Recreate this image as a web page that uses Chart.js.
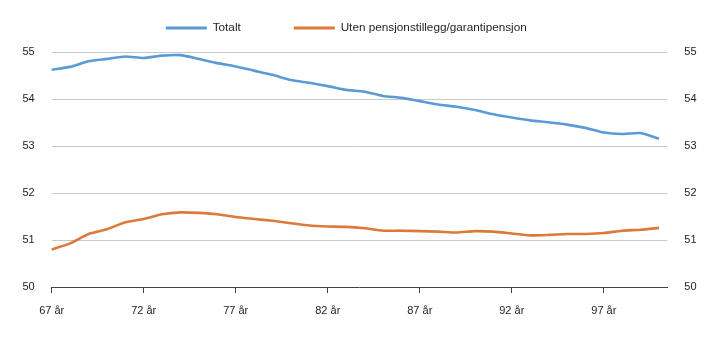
<!DOCTYPE html>
<html>
<head>
<meta charset="utf-8">
<script src="https://cdn.jsdelivr.net/npm/chart.js@4/dist/chart.umd.min.js"></script>
<style>
  html, body { margin: 0; padding: 0; background: #ffffff; }
  #wrap { width: 720px; height: 341px; }
</style>
</head>
<body>
<div id="wrap"><canvas id="c" width="720" height="341"></canvas></div>
<script>
// ---- data ----
const ages = [67, 68, 69, 70, 71, 72, 73, 74, 75, 76, 77, 78, 79, 80, 81, 82, 83,
              84, 85, 86, 87, 88, 89, 90, 91, 92, 93, 94, 95, 96, 97, 98, 99, 100];
const totalt = [54.63, 54.69, 54.81, 54.86, 54.91, 54.88, 54.93, 54.94, 54.86, 54.77,
                54.70, 54.61, 54.52, 54.41, 54.35, 54.28, 54.20, 54.16, 54.07, 54.03,
                53.96, 53.89, 53.84, 53.77, 53.68, 53.61, 53.55, 53.51, 53.46, 53.39,
                53.29, 53.26, 53.28, 53.16];
const utenPensjonstillegg = [50.80, 50.93, 51.13, 51.23, 51.38, 51.45, 51.55, 51.59, 51.58, 51.55,
                51.49, 51.45, 51.41, 51.36, 51.31, 51.29, 51.28, 51.25, 51.20, 51.20,
                51.19, 51.18, 51.16, 51.19, 51.18, 51.14, 51.10, 51.11, 51.13, 51.13,
                51.15, 51.20, 51.22, 51.26];
const seriesNames = ['Totalt', 'Uten pensjonstillegg/garantipensjon'];
const xTickValues = [67, 72, 77, 82, 87, 92, 97];
const xTickLabels = ['67 år', '72 år', '77 år', '82 år', '87 år', '92 år', '97 år'];
const yTickValues = [50, 51, 52, 53, 54, 55];

// ---- styling ----
const BLUE = '#5B9BD5';
const ORANGE = '#DD7A3A';
const TEXT = '#1e1e1e';

Chart.defaults.font.family = '"Liberation Sans", Arial, sans-serif';
Chart.defaults.font.size = 11;
Chart.defaults.color = TEXT;

const legendHeightFix = {
  id: 'legendHeightFix',
  beforeLayout(chart) {
    const lg = chart.legend;
    if (lg && !lg._hfix) {
      const orig = lg.fit.bind(lg);
      lg.fit = function () { orig(); this.height = 83.2; };
      lg._hfix = true;
    }
  }
};

const toPoints = (vals) => vals.map((v, i) => ({ x: ages[i], y: v }));

new Chart(document.getElementById('c'), {
  type: 'line',
  data: {
    datasets: [
      { label: seriesNames[0], data: toPoints(totalt), borderColor: BLUE, backgroundColor: BLUE,
        borderWidth: 2.6, pointRadius: 0, tension: 0.2, fill: false, clip: false },
      { label: seriesNames[1], data: toPoints(utenPensjonstillegg), borderColor: ORANGE, backgroundColor: ORANGE,
        borderWidth: 2.6, pointRadius: 0, tension: 0.2, fill: false, clip: false }
    ]
  },
  options: {
    responsive: false,
    animation: false,
    devicePixelRatio: 1,
    layout: { padding: { top: -30.875, left: -27.4, right: 0, bottom: 0 } },
    plugins: {
      tooltip: { enabled: false },
      legend: {
        display: true,
        position: 'top',
        align: 'center',
        labels: {
          boxWidth: 41,
          boxHeight: 3,
          padding: 53,
          color: TEXT,
          font: { size: 11.75 },
          generateLabels(chart) {
            return Chart.defaults.plugins.legend.labels.generateLabels(chart)
              .map(l => Object.assign(l, { lineWidth: 0 }));
          }
        }
      }
    },
    scales: {
      x: {
        type: 'linear',
        min: 67,
        max: 100.45,
        afterBuildTicks(scale) { scale.ticks = xTickValues.map(v => ({ value: v })); },
        afterFit(scale) { scale.height = 54; },
        ticks: {
          autoSkip: false, maxRotation: 0, padding: 11, color: TEXT,
          callback(value) { const i = xTickValues.indexOf(value); return i >= 0 ? xTickLabels[i] : ''; }
        },
        grid: { display: true, drawOnChartArea: false, drawTicks: true, tickLength: 6, tickColor: '#404040', lineWidth: 1 },
        border: { display: true, color: '#404040', width: 1 }
      },
      y: {
        position: 'left',
        min: 50, max: 55,
        afterBuildTicks(scale) { scale.ticks = yTickValues.map(v => ({ value: v })); },
        afterFit(scale) { scale.width = 51.7 + 27.4; },
        ticks: { padding: 17, color: TEXT },
        grid: {
          drawTicks: false,
          color: (ctx) => (ctx.tick && ctx.tick.value === 50) ? 'rgba(0,0,0,0)' : '#c8c8c8',
          lineWidth: 1
        },
        border: { display: false }
      },
      y2: {
        position: 'right',
        min: 50, max: 55,
        afterBuildTicks(scale) { scale.ticks = yTickValues.map(v => ({ value: v })); },
        afterFit(scale) { scale.width = 720 - 667.3; },
        ticks: { padding: 17, color: TEXT },
        grid: { display: false, drawTicks: false },
        border: { display: false }
      }
    }
  },
  plugins: [legendHeightFix]
});
</script>
</body>
</html>
